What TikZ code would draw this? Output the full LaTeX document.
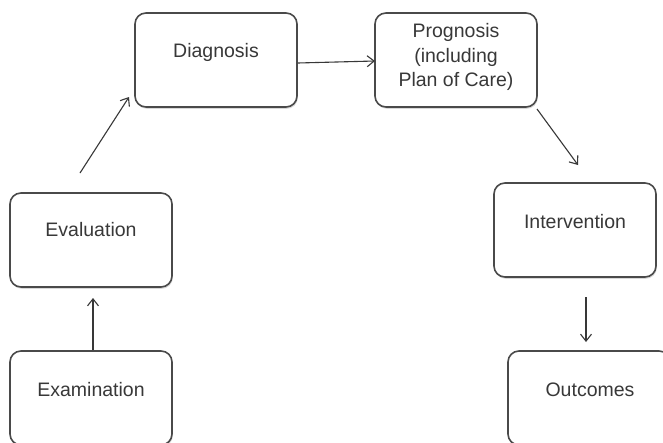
\documentclass[tikz,border=0pt]{standalone}
\usepackage{fontspec}
\setmainfont{Liberation Sans}
\usetikzlibrary{shadows,arrows.meta}
\definecolor{boxline}{HTML}{4A4A4A}
\definecolor{txt}{HTML}{383838}
\begin{document}
\begin{tikzpicture}[x=1pt,y=-1pt,
  box/.style={draw=boxline, line width=1.6pt, rounded corners=11pt, fill=white,
    minimum width=162pt, minimum height=94pt, inner sep=0pt,
    drop shadow={opacity=0.3, shadow xshift=0.8pt, shadow yshift=-1.8pt}},
  lbl/.style={text=txt, font=\fontsize{19.5}{24.5}\selectfont, align=center, inner sep=0pt},
  arr/.style={draw=txt, line width=1.1pt, -{Straight Barb[length=7pt,width=11pt,line width=1.1pt]}}]
\useasboundingbox (0,0) rectangle (663,442);
\fill[white] (0,0) rectangle (663,442);
% boxes
\node[box] (diag) at (216,60) {};
\node[box] (prog) at (456,60) {};
\node[box] (eval) at (91,240) {};
\node[box] (exam) at (91,398) {};
\node[box] (intv) at (575,230) {};
\node[box] (outc) at (589,398) {};
% labels
\node[lbl] (tdiag) at (216,52) {Diagnosis};
\node[lbl] (tprog) at (456,57) {Prognosis\\(including\\Plan of Care)};
\node[lbl] (teval) at (91,230) {Evaluation};
\node[lbl] (texam) at (91,390) {Examination};
\node[lbl] (tintv) at (575,222) {Intervention};
\node[lbl] (toutc) at (590,390) {Outcomes};
% connector end points
\coordinate (a1) at (80,173);
\coordinate (a2) at (129,97);
\coordinate (b2) at (375,61);
\coordinate (c1) at (537,109);
\coordinate (c2) at (578,165);
\coordinate (d1) at (586,297);
\coordinate (d2) at (586,342);
\coordinate (e2) at (93,298);
% connectors
\draw[arr] (exam.north -| e2) -- (e2);
\draw[arr] (a1) -- (a2);
\draw[arr] (diag.east |- 0,63) -- (b2);
\draw[arr] (c1) -- (c2);
\draw[arr] (d1) -- (d2);
\end{tikzpicture}
\end{document}
